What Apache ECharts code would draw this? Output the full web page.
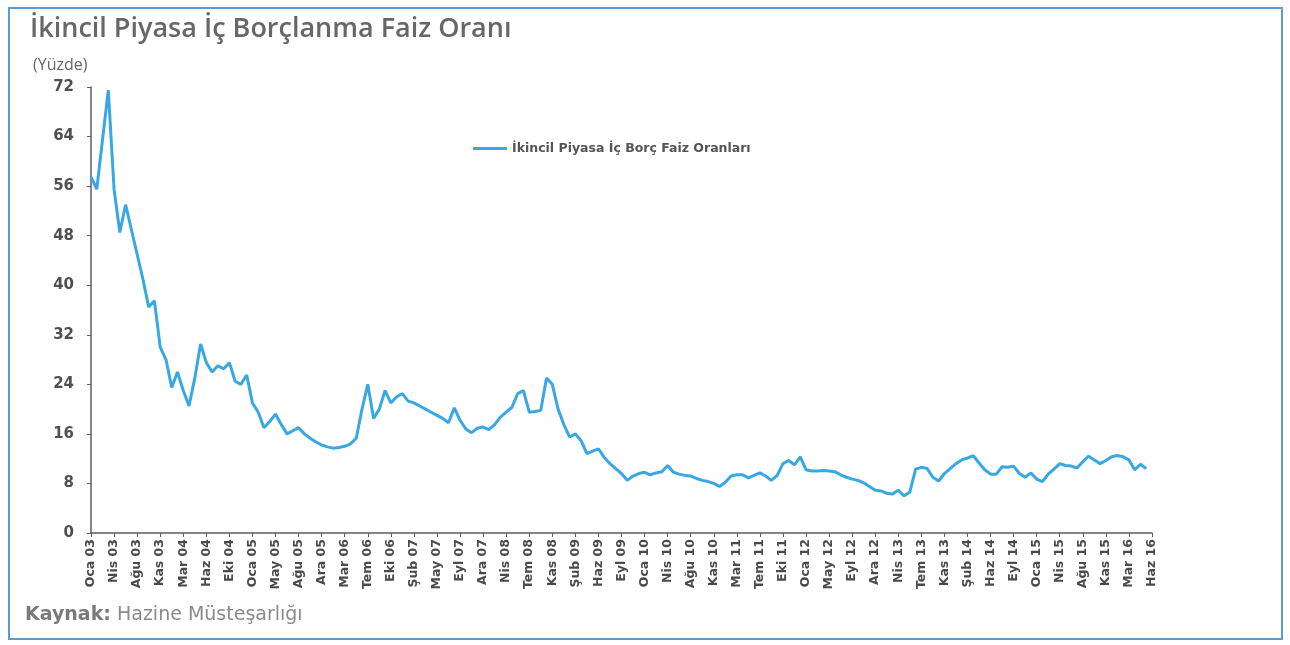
<!DOCTYPE html>
<html>
<head>
<meta charset="utf-8">
<script src="https://cdn.jsdelivr.net/npm/echarts@6/dist/echarts.min.js"></script>
<style>
html,body{margin:0;padding:0;background:#fff;}
#c{width:1290px;height:645px;}
</style>
</head>
<body>
<div id="c"></div>
<script>
// Tick labels along the time axis (one every ~3-4 months)
var tickLabels = ["Oca 03","Nis 03","Ağu 03","Kas 03","Mar 04","Haz 04","Eki 04","Oca 05","May 05","Ağu 05","Ara 05","Mar 06","Tem 06","Eki 06","Şub 07","May 07","Eyl 07","Ara 07","Nis 08","Tem 08","Kas 08","Şub 09","Haz 09","Eyl 09","Oca 10","Nis 10","Ağu 10","Kas 10","Mar 11","Tem 11","Eki 11","Oca 12","May 12","Eyl 12","Ara 12","Nis 13","Tem 13","Kas 13","Şub 14","Haz 14","Eyl 14","Oca 15","Nis 15","Ağu 15","Kas 15","Mar 16","Haz 16"];
// Samples per tick interval
var samplesPerTick = 4;
// İkincil Piyasa İç Borç Faiz Oranları (%)
var rates = [
57.5,55.5,63.5,71.5,55.5,48.5,53,49,45,41,36.5,37.5,30,28,23.5,26,23,20.5,25,30.5,
27.5,26,27,26.5,27.5,24.5,24,25.5,21,19.5,17,18,19.2,17.5,16,16.5,17,16,15.3,14.7,
14.2,13.9,13.7,13.8,14.0,14.4,15.3,20,24,18.5,20,23,21,22,22.5,21.3,21,20.5,20,19.5,
19,18.5,17.8,20.2,18.2,16.8,16.2,16.9,17.1,16.7,17.5,18.7,19.5,20.3,22.5,23,19.5,19.6,19.8,25,
24,20,17.5,15.5,16,14.9,12.8,13.2,13.6,12.2,11.2,10.4,9.6,8.5,9.2,9.6,9.8,9.4,9.7,9.9,
10.9,9.8,9.5,9.3,9.2,8.8,8.5,8.3,8.0,7.5,8.2,9.2,9.4,9.4,8.9,9.3,9.7,9.2,8.5,9.3,
11.2,11.7,11.0,12.3,10.2,10.0,10.0,10.1,10.0,9.9,9.4,9.0,8.7,8.5,8.1,7.5,6.9,6.8,6.4,6.3,
6.9,6.0,6.6,10.3,10.6,10.4,9.0,8.4,9.6,10.4,11.2,11.8,12.1,12.5,11.3,10.2,9.5,9.5,10.7,10.6,
10.8,9.6,9.0,9.7,8.7,8.3,9.5,10.3,11.2,10.9,10.8,10.5,11.5,12.4,11.8,11.2,11.7,12.3,12.5,12.3,
11.8,10.2,11.1,10.4
];
var seriesName = "İkincil Piyasa İç Borç Faiz Oranları";

// Build category list: each tick label followed by sub-sample slots
var categories = [];
for (var i = 0; i < tickLabels.length; i++) {
  categories.push(tickLabels[i]);
  if (i < tickLabels.length - 1) {
    for (var k = 1; k < samplesPerTick; k++) categories.push(tickLabels[i] + " ·" + k);
  }
}

var chart = echarts.init(document.getElementById('c'), null, {renderer: 'canvas'});
var axisGray = '#5e5e5e';
var font = '"DejaVu Sans", "Noto Sans", sans-serif';
chart.setOption({
  animation: false,
  backgroundColor: '#ffffff',
  title: [
    {text: 'İkincil Piyasa İç Borçlanma Faiz Oranı', left: 25, top: 11,
     textStyle: {fontFamily: '"Open Sans", sans-serif', fontSize: 27, fontWeight: 600, color: '#676767'}},
    {text: '(Yüzde)', left: 28, top: 52,
     textStyle: {fontFamily: '"Open Sans", sans-serif', fontSize: 16, fontWeight: 500, color: '#666666'}},
    {text: '{b|Kaynak:} Hazine Müsteşarlığı', left: 20, top: 601,
     textStyle: {fontFamily: '"DejaVu Sans", sans-serif', fontSize: 19, fontWeight: 'normal', color: '#8a8a8a',
       rich: {b: {fontFamily: '"DejaVu Sans", sans-serif', fontSize: 19, fontWeight: 'bold', color: '#7a7a7a'}}}}
  ],
  legend: {
    data: [seriesName], left: 468, top: 137, itemWidth: 34, itemHeight: 3, itemGap: 4,
    icon: 'rect',
    textStyle: {fontFamily: font, fontSize: 12.5, fontWeight: 'bold', color: '#555'}
  },
  grid: {left: 91, right: 138, top: 87, bottom: 112, containLabel: false},
  xAxis: {
    type: 'category', data: categories, boundaryGap: false,
    axisLine: {lineStyle: {color: axisGray, width: 1.5}},
    axisTick: {interval: samplesPerTick - 1, length: 4, lineStyle: {color: axisGray}},
    axisLabel: {interval: samplesPerTick - 1, rotate: 90, margin: 6,
      fontFamily: font, fontSize: 12.5, fontWeight: 'bold', color: '#4a4a4a'},
    splitLine: {show: false}
  },
  yAxis: {
    type: 'value', min: 0, max: 72, interval: 8,
    axisLine: {show: true, lineStyle: {color: axisGray, width: 1.5}},
    axisTick: {show: true, length: 4, lineStyle: {color: axisGray}},
    axisLabel: {margin: 17, fontFamily: font, fontSize: 15, fontWeight: 'bold', color: '#505050'},
    splitLine: {show: false}
  },
  series: [{
    name: seriesName, type: 'line', data: rates, showSymbol: false, symbol: 'none',
    lineStyle: {color: '#38a8e2', width: 3}, itemStyle: {color: '#38a8e2'}
  }],
  graphic: [
    {type: 'rect', shape: {x: 9, y: 8, width: 1273, height: 631},
     style: {fill: 'none', stroke: '#5b9cc9', lineWidth: 2}, z: 100}
  ]
});
</script>
</body>
</html>
